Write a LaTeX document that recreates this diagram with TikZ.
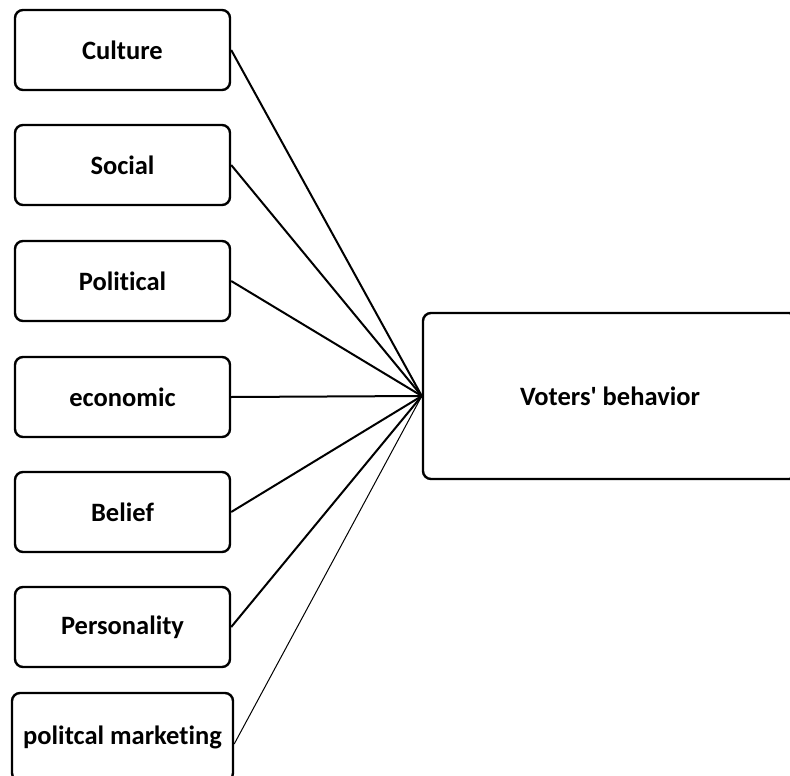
\documentclass[tikz,border=0pt]{standalone}
\usepackage{fontspec}
\setmainfont{Carlito}[Ligatures={NoCommon}]
\begin{document}
\begin{tikzpicture}[x=1pt,y=-1pt,
  factor/.style={draw=black, line width=2.4pt, rounded corners=8pt, fill=white,
    minimum width=215pt, minimum height=80pt, inner sep=0pt,
    font=\fontsize{26.5}{31}\selectfont\bfseries},
  link/.style={draw=black, line width=2pt},
  thinlink/.style={draw=black, line width=1pt}]
\useasboundingbox (0,0) rectangle (790,776);
\clip (0,0) rectangle (790,776);
\node[factor] (cul) at (122.5,50) {Culture};
\node[factor] (soc) at (122.5,165) {Social};
\node[factor] (pol) at (122.5,281) {Political};
\node[factor] (eco) at (122.5,397) {economic};
\node[factor] (bel) at (122.5,512) {Belief};
\node[factor] (per) at (122.5,627) {Personality};
\node[factor, minimum width=221pt, minimum height=88pt] (pm) at (122.5,737) {politcal marketing};
\node[factor, minimum width=374pt, minimum height=166pt] (vb) at (610,396) {Voters\textquotesingle{} behavior};
\draw[link] (cul.east) -- (vb.west);
\draw[link] (soc.east) -- (vb.west);
\draw[link] (pol.east) -- (vb.west);
\draw[link] (eco.east) -- (vb.west);
\draw[link] (bel.east) -- (vb.west);
\draw[link] (per.east) -- (vb.west);
\draw[thinlink] ([yshift=-7pt]pm.east) -- (vb.west);
\end{tikzpicture}
\end{document}
